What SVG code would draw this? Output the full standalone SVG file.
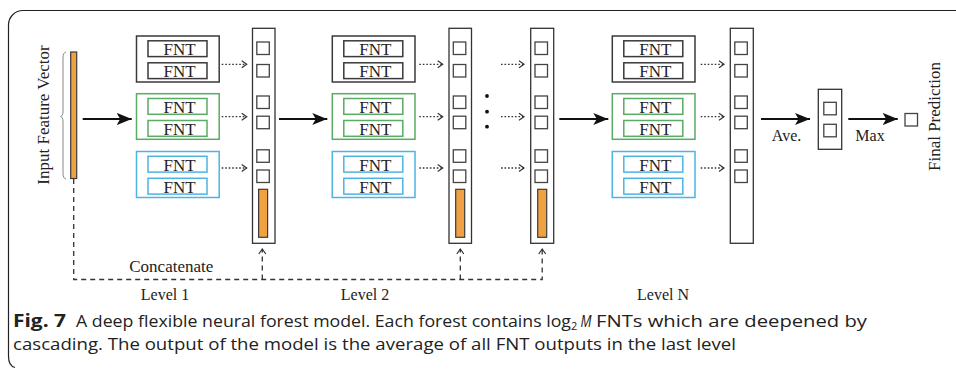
<svg xmlns="http://www.w3.org/2000/svg" width="956" height="369" viewBox="0 0 956 369">
  <defs>
    <style>
      .frame{fill:none;stroke:#222;stroke-width:1.2}
      .fk{fill:#fff;stroke:#3a3a3a;stroke-width:1.5}
      .fg{fill:#fff;stroke:#5aab63;stroke-width:1.5}
      .fb{fill:#fff;stroke:#4cb3e3;stroke-width:1.5}
      .col{fill:#fff;stroke:#333;stroke-width:1.3}
      .sq{fill:#fff;stroke:#444;stroke-width:1.3}
      .bar{fill:#f0a243;stroke:#3a3a3a;stroke-width:1.2}
      .lbl{font-family:"Liberation Serif","Times New Roman",serif;font-size:17px;fill:#222}
      .fnt{font-family:"Liberation Serif","Times New Roman",serif;font-size:17px;fill:#222;text-anchor:middle}
      .main{fill:none;stroke:#111;stroke-width:2;marker-end:url(#stealth)}
      .dot{fill:none;stroke:#333;stroke-width:1.3;stroke-dasharray:1.6 1.9;marker-end:url(#chev)}
      .dash{fill:none;stroke:#333;stroke-width:1.3;stroke-dasharray:5 4}
      .up{marker-end:url(#chev)}
      .cap{font-family:"Open Sans","Noto Sans",sans-serif;font-size:17px;fill:#222}
    </style>
    <marker id="stealth" markerUnits="userSpaceOnUse" markerWidth="15" markerHeight="12" refX="15" refY="6" orient="auto" viewBox="0 0 15 12">
      <path d="M0,0 L15,6 L0,12 L3.5,6 Z" fill="#111"/>
    </marker>
    <marker id="chev" markerUnits="userSpaceOnUse" markerWidth="8" markerHeight="9" refX="6" refY="4" orient="auto" viewBox="0 0 8 8">
      <path d="M1,0.5 L6,4 L1,7.5" fill="none" stroke="#333" stroke-width="1.2" stroke-dasharray="none"/>
    </marker>
    <!-- one column of output squares (relative to column origin) -->
    <g id="squares">
      <rect class="sq" x="4.3" y="42" width="12.5" height="12.5"/>
      <rect class="sq" x="4.3" y="64.5" width="12.5" height="12.5"/>
      <rect class="sq" x="4.3" y="96" width="12.5" height="12.5"/>
      <rect class="sq" x="4.3" y="116.2" width="12.5" height="12.5"/>
      <rect class="sq" x="4.3" y="149.8" width="12.5" height="12.5"/>
      <rect class="sq" x="4.3" y="170" width="12.5" height="12.5"/>
    </g>
    <!-- three forests of two FNTs each (relative to forest origin) -->
    <g id="forests">
      <rect class="fk" x="0" y="36" width="82.7" height="46"/>
      <rect class="fk" x="11.5" y="40.8" width="59" height="15.8"/>
      <rect class="fk" x="11.5" y="62.8" width="59" height="15.8"/>
      <text class="fnt" x="43" y="55.1">FNT</text>
      <text class="fnt" x="43" y="77.1">FNT</text>
      <rect class="fg" x="0" y="93.7" width="82.7" height="45.6"/>
      <rect class="fg" x="11.5" y="98.5" width="59" height="15.8"/>
      <rect class="fg" x="11.5" y="120.5" width="59" height="15.8"/>
      <text class="fnt" x="43" y="112.8">FNT</text>
      <text class="fnt" x="43" y="134.8">FNT</text>
      <rect class="fb" x="0" y="151.5" width="82.7" height="46"/>
      <rect class="fb" x="11.5" y="156.3" width="59" height="15.8"/>
      <rect class="fb" x="11.5" y="178.3" width="59" height="15.8"/>
      <text class="fnt" x="43" y="170.6">FNT</text>
      <text class="fnt" x="43" y="192.6">FNT</text>
    </g>
  </defs>

  <!-- caption frame, open on the right -->
  <path class="frame" d="M956,10.5 H23 A14.5,14.5 0 0 0 8.5,25 V356 Q8.5,366 15,367.5"/>

  <!-- input feature vector -->
  <g id="input">
    <path d="M66,52 Q63,52.5 63,58 V111 Q63,116 60.5,116.5 Q63,117 63,122 V173 Q63,178.5 66,179" fill="none" stroke="#888" stroke-width="1"/>
    <rect class="bar" x="70.7" y="52" width="6" height="126.5"/>
    <text class="lbl" transform="translate(49,115) rotate(-90)" text-anchor="middle">Input Feature Vector</text>
  </g>

  <!-- level 1 -->
  <g id="level1-forests" transform="translate(136.5,0)"><use href="#forests"/></g>
  <g id="level1-output">
    <rect class="col" x="252.5" y="28.3" width="22.5" height="215"/>
    <use href="#squares" transform="translate(252.5,0)"/>
    <rect class="bar" x="258.6" y="189.3" width="9" height="48"/>
  </g>

  <!-- level 2 -->
  <g id="level2-forests" transform="translate(332.3,0)"><use href="#forests"/></g>
  <g id="level2-output">
    <rect class="col" x="449" y="28.3" width="22.5" height="215"/>
    <use href="#squares" transform="translate(449,0)"/>
    <rect class="bar" x="455.7" y="189.3" width="9" height="48"/>
  </g>

  <!-- ellipsis between levels -->
  <g id="ellipsis" fill="#111">
    <circle cx="487" cy="96" r="1.9"/>
    <circle cx="487" cy="111.7" r="1.9"/>
    <circle cx="487" cy="126.7" r="1.9"/>
  </g>

  <!-- level N-1 output -->
  <g id="levelN1-output">
    <rect class="col" x="530.7" y="28.3" width="23" height="215"/>
    <use href="#squares" transform="translate(530.7,0)"/>
    <rect class="bar" x="537.7" y="189.3" width="9" height="48"/>
  </g>

  <!-- level N -->
  <g id="levelN-forests" transform="translate(612.3,0)"><use href="#forests"/></g>
  <g id="levelN-output">
    <rect class="col" x="730.3" y="28.3" width="23" height="215"/>
    <use href="#squares" transform="translate(730.5,0)"/>
  </g>

  <!-- averaged class outputs -->
  <g id="average">
    <rect class="col" x="818.3" y="89.3" width="23.4" height="60"/>
    <rect class="sq" x="823.8" y="102.3" width="12.5" height="12.5"/>
    <rect class="sq" x="823.8" y="124.3" width="12.5" height="12.5"/>
  </g>

  <!-- final prediction -->
  <g id="prediction">
    <rect class="sq" x="905" y="113.5" width="12.5" height="12.5"/>
    <text class="lbl" transform="translate(939.5,116.5) rotate(-90)" text-anchor="middle">Final Prediction</text>
  </g>

  <!-- connectors -->
  <g id="connectors">
    <line class="main" x1="82.7" y1="119" x2="131.7" y2="119"/>
    <line class="main" x1="279" y1="119" x2="327.3" y2="119"/>
    <line class="main" x1="559.3" y1="119" x2="608.3" y2="119"/>
    <line class="main" x1="761" y1="119" x2="810" y2="119"/>
    <line class="main" x1="848.3" y1="119" x2="897.7" y2="119"/>

    <line class="dot" x1="221.7" y1="64.3" x2="246.7" y2="64.3"/>
    <line class="dot" x1="221.7" y1="116.7" x2="246.7" y2="116.7"/>
    <line class="dot" x1="221.7" y1="168" x2="246.7" y2="168"/>
    <line class="dot" x1="419.3" y1="64.3" x2="442.7" y2="64.3"/>
    <line class="dot" x1="419.3" y1="116.7" x2="442.7" y2="116.7"/>
    <line class="dot" x1="419.3" y1="168" x2="442.7" y2="168"/>
    <line class="dot" x1="501" y1="64.3" x2="524" y2="64.3"/>
    <line class="dot" x1="501" y1="116.7" x2="524" y2="116.7"/>
    <line class="dot" x1="501" y1="168" x2="524" y2="168"/>
    <line class="dot" x1="700.7" y1="64.3" x2="724" y2="64.3"/>
    <line class="dot" x1="700.7" y1="116.7" x2="724" y2="116.7"/>
    <line class="dot" x1="700.7" y1="168" x2="724" y2="168"/>

    <path class="dash up" d="M73.7,179 V279.5 H542.2 V249"/>
    <path class="dash up" d="M262.3,279.5 V249"/>
    <path class="dash up" d="M460.3,279.5 V249"/>
  </g>

  <!-- labels -->
  <g id="labels">
    <text class="lbl" x="171.3" y="271.7" text-anchor="middle">Concatenate</text>
    <text class="lbl" x="786.5" y="140.7" text-anchor="middle" style="font-size:16px">Ave.</text>
    <text class="lbl" x="870" y="140.7" text-anchor="middle" style="font-size:16px">Max</text>
    <text class="lbl" x="165" y="300" text-anchor="middle" style="font-size:16px">Level 1</text>
    <text class="lbl" x="365" y="300" text-anchor="middle" style="font-size:16px">Level 2</text>
    <text class="lbl" x="663" y="300" text-anchor="middle" style="font-size:16px">Level N</text>
  </g>

  <!-- caption -->
  <g id="caption">
    <text class="cap" x="13" y="326.5" style="font-weight:700" textLength="53" lengthAdjust="spacingAndGlyphs">Fig. 7</text>
    <text class="cap" x="76" y="326.5" textLength="495" lengthAdjust="spacingAndGlyphs">A deep flexible neural forest model. Each forest contains log</text>
    <text class="cap" x="571" y="330" style="font-size:11px">2</text>
    <text class="cap" x="580.5" y="326.5" style="font-style:italic" textLength="11" lengthAdjust="spacingAndGlyphs">M</text>
    <text class="cap" x="596" y="326.5" textLength="271" lengthAdjust="spacingAndGlyphs">FNTs which are deepened by</text>
    <text class="cap" x="13" y="349.5" textLength="723" lengthAdjust="spacingAndGlyphs">cascading. The output of the model is the average of all FNT outputs in the last level</text>
  </g>
</svg>
